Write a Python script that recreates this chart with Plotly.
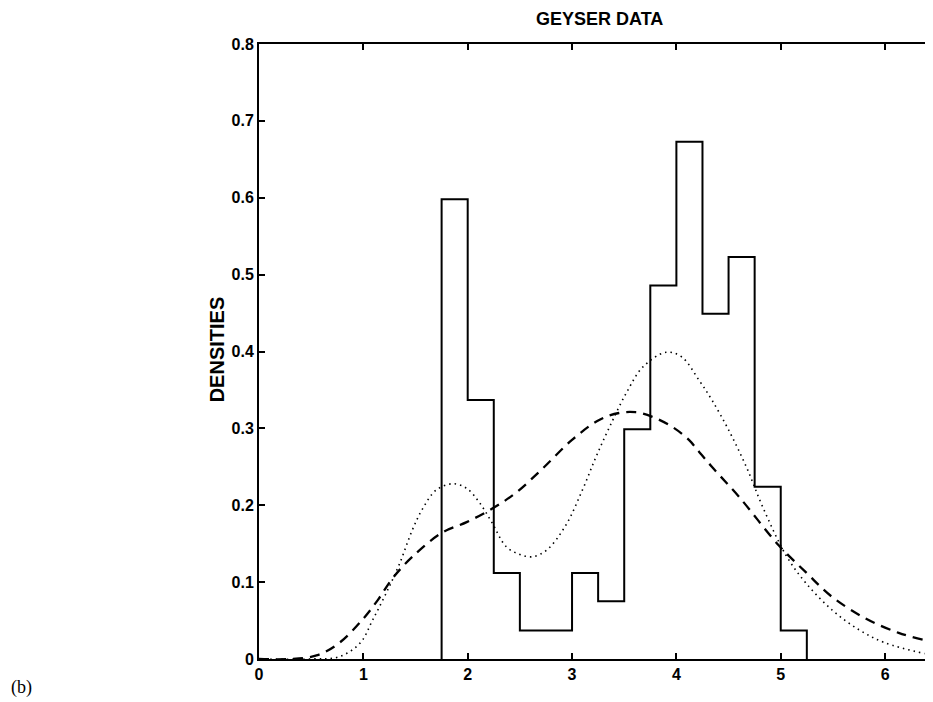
import plotly.graph_objects as go

# Histogram (bin edges and densities)
bin_edges = [1.75, 2.0, 2.25, 2.5, 2.75, 3.0, 3.25, 3.5, 3.75, 4.0, 4.25, 4.5, 4.75, 5.0, 5.25]
densities = [0.598, 0.337, 0.112, 0.037, 0.037, 0.112, 0.075, 0.299, 0.486, 0.673, 0.449, 0.523, 0.224, 0.037]

# Dashed curve
dash_x = [0.0, 0.3, 0.56, 0.77, 0.99, 1.14, 1.28, 1.47, 1.75, 1.99, 2.24, 2.46, 2.72, 3.0, 3.26,
          3.45, 3.61, 3.77, 3.96, 4.12, 4.22, 4.34, 4.6, 4.98, 5.24, 5.49, 5.81, 6.13, 6.37]
dash_y = [0.0, 0.0, 0.005, 0.021, 0.051, 0.077, 0.105, 0.133, 0.164, 0.178, 0.196, 0.216, 0.248, 0.285, 0.311,
          0.32, 0.321, 0.315, 0.302, 0.285, 0.269, 0.25, 0.211, 0.148, 0.113, 0.081, 0.053, 0.034, 0.025]

# Dotted curve
dot_x = [0.0, 0.5, 0.77, 0.97, 1.09, 1.22, 1.35, 1.47, 1.57, 1.70, 1.86, 1.99, 2.11, 2.23, 2.37,
         2.5, 2.62, 2.76, 2.94, 3.10, 3.23, 3.36, 3.52, 3.68, 3.90, 4.05, 4.22, 4.34, 4.5,
         4.67, 4.83, 5.05, 5.24, 5.49, 5.75, 6.0, 6.38]
dot_y = [0.0, 0.0, 0.003, 0.021, 0.051, 0.086, 0.125, 0.168, 0.196, 0.22, 0.228, 0.222, 0.204, 0.178, 0.146,
         0.136, 0.133, 0.142, 0.174, 0.22, 0.263, 0.302, 0.346, 0.38, 0.399, 0.393, 0.362, 0.337, 0.298,
         0.25, 0.197, 0.135, 0.099, 0.064, 0.038, 0.021, 0.007]

x_ticks = [0, 1, 2, 3, 4, 5, 6]
y_ticks = [0, 0.1, 0.2, 0.3, 0.4, 0.5, 0.6, 0.7, 0.8]
y_tick_labels = ["0", "0.1", "0.2", "0.3", "0.4", "0.5", "0.6", "0.7", "0.8"]

hist_x = [bin_edges[0]] + bin_edges
hist_y = [0] + densities + [0]

fig = go.Figure()
fig.add_trace(go.Scatter(x=hist_x, y=hist_y, mode="lines", line=dict(color="black", width=2, shape="hv"),
                         showlegend=False, hoverinfo="skip"))
fig.add_trace(go.Scatter(x=dash_x, y=dash_y, mode="lines", line=dict(color="black", width=2.3, dash="10px,7px", shape="spline"),
                         showlegend=False))
fig.add_trace(go.Scatter(x=dot_x, y=dot_y, mode="lines", line=dict(color="black", width=1.6, dash="1.5px,4px", shape="spline"),
                         showlegend=False))

axis_common = dict(showline=True, linecolor="black", linewidth=2, mirror="ticks", ticks="inside",
                   ticklen=6, tickwidth=1.5, tickcolor="black", showgrid=False, zeroline=False,
                   tickfont=dict(family="Liberation Sans", size=16, color="black", weight="bold"))

fig.update_xaxes(range=[0, 6.44], tickvals=x_ticks, ticktext=[str(t) for t in x_ticks], **axis_common)
fig.update_yaxes(range=[0, 0.8], tickvals=y_ticks, ticktext=y_tick_labels, **axis_common)

# page has an 8px body margin, so figure coordinates = page coordinates - 8
W, H = 925, 694
L, T = 251, 36
PW = W - L
fig.update_layout(
    width=W, height=H,
    margin=dict(l=L, r=0, t=T, b=43),
    plot_bgcolor="white", paper_bgcolor="white",
    font=dict(family="Liberation Sans", color="black"),
    annotations=[
        dict(text="<b>GEYSER DATA</b>", x=(601 - 8 - L) / PW, y=1, xref="paper", yref="paper",
             xanchor="center", yanchor="bottom", yshift=13, showarrow=False,
             font=dict(family="Liberation Sans", size=18, color="black")),
        dict(text="<b>DENSITIES</b>", x=(217 - 8 - L) / PW, y=0.403 / 0.8, xref="paper", yref="paper",
             xanchor="center", yanchor="middle", textangle=-90, showarrow=False,
             font=dict(family="Liberation Sans", size=20, color="black")),
        dict(text="(b)", x=-L / PW, y=-0.046, xref="paper", yref="paper",
             xanchor="left", yanchor="middle", showarrow=False,
             font=dict(family="Liberation Serif", size=18, color="black")),
    ],
)

fig.write_html("out.html")
